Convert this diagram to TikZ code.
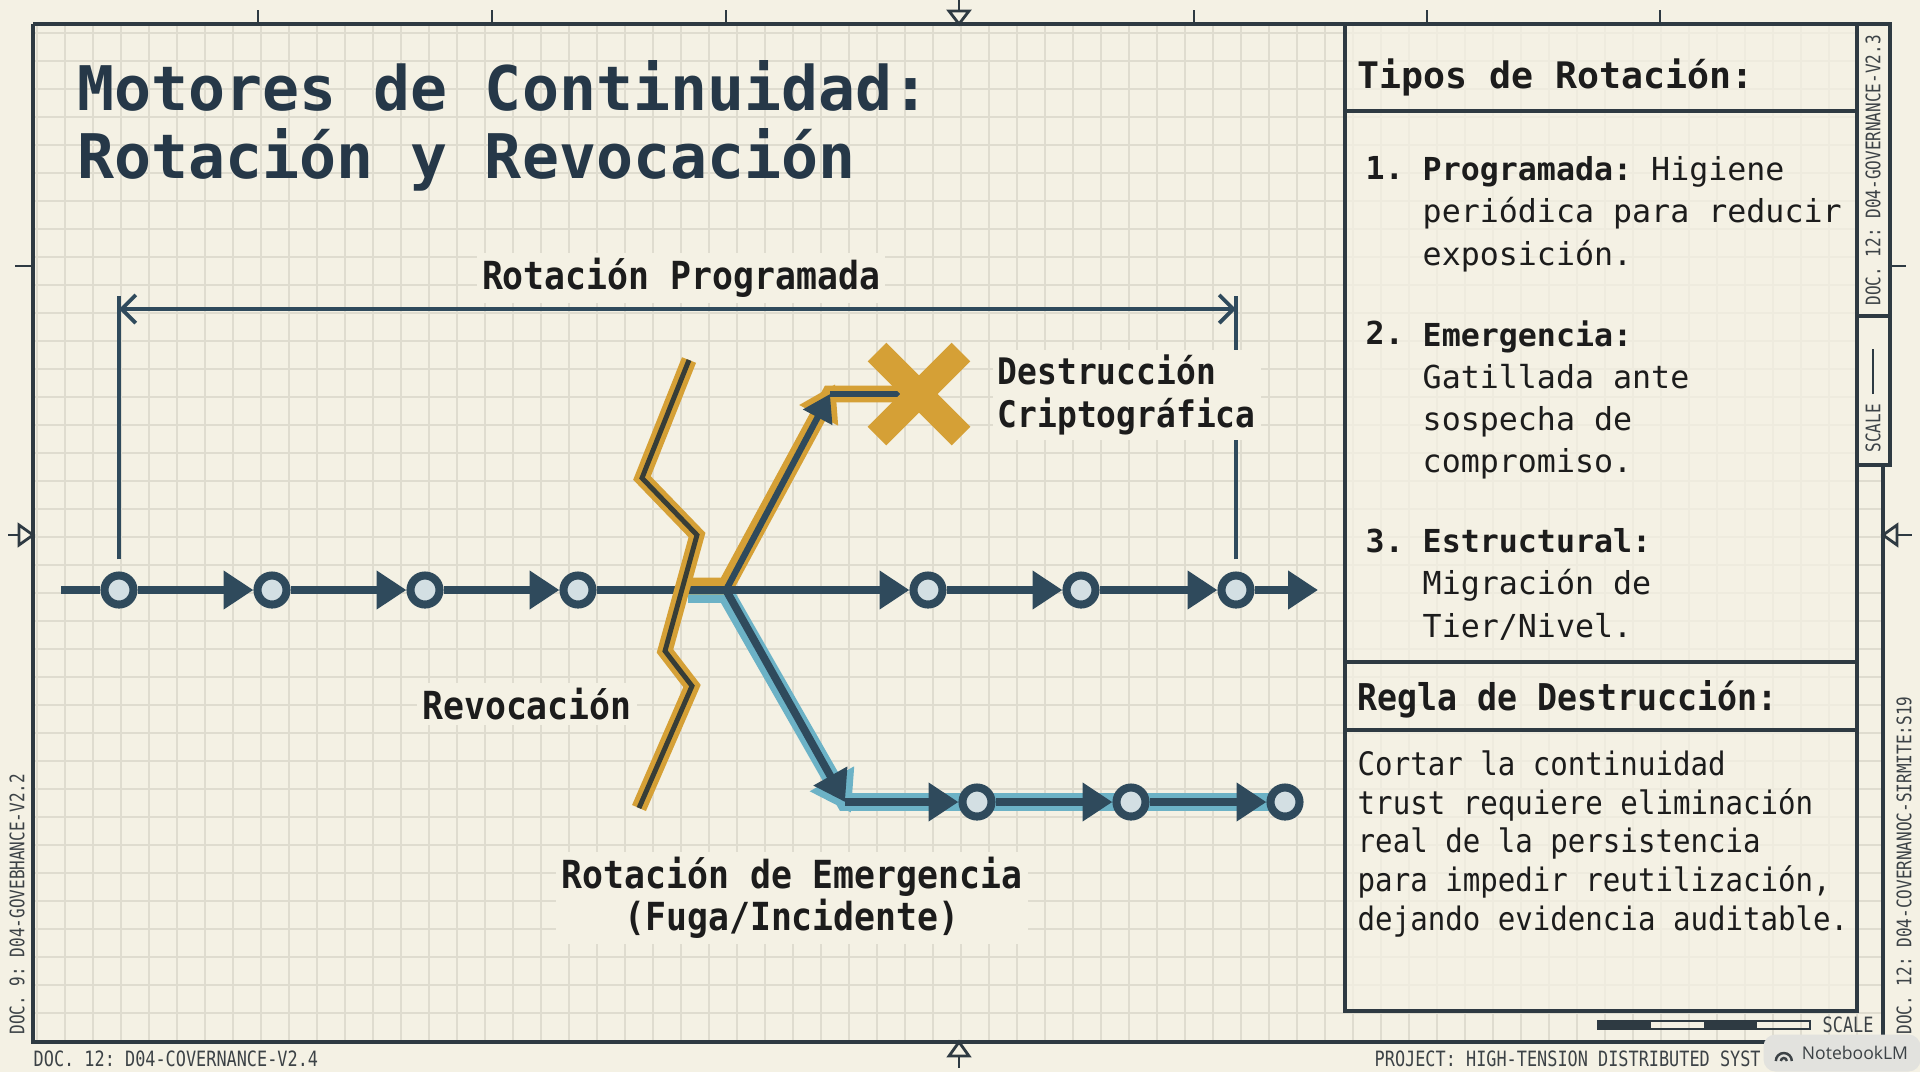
\documentclass[tikz,border=0pt]{standalone}
\usepackage{fontspec}
\setmainfont{DejaVu Sans Mono}
\newfontfamily\lblfont{DejaVu Sans Mono}[FakeStretch=0.9]
\newfontfamily\footfont{DejaVu Sans Mono}[FakeStretch=0.8]
\newfontfamily\badgefont{Open Sans}
\usetikzlibrary{arrows.meta,calc,positioning}
\frenchspacing

\definecolor{paper}{HTML}{F4F1E4}
\definecolor{gridc}{HTML}{DFDCCF}
\definecolor{ink}{HTML}{2E3A42}
\definecolor{navy}{HTML}{2F4A5C}
\definecolor{titlec}{HTML}{263848}
\definecolor{nodefill}{HTML}{D3DFE3}
\definecolor{gold}{HTML}{D5A036}
\definecolor{skyc}{HTML}{6CB2C6}
\definecolor{txt}{HTML}{1C1C1C}
\definecolor{zigcore}{HTML}{373D37}
\definecolor{footc}{HTML}{3C4246}
\definecolor{badgec}{HTML}{E2E2DE}

\pgfdeclarelayer{paperbg}
\pgfdeclarelayer{casing}
\pgfsetlayers{paperbg,casing,main}

\begin{document}
\begin{tikzpicture}[x=0.1mm,y=-0.1mm,
    gridline/.style={gridc, line width=0.45pt},
    frame/.style={ink, line width=1pt},
    panel/.style={ink, line width=0.9pt},
    tickmark/.style={ink, line width=0.8pt},
    station/.style={circle, draw=navy, line width=2.3pt, fill=nodefill,
        minimum size=2.9mm, inner sep=0},
    track/.style={navy, line width=2.4pt},
    tip/.style={-{Triangle[length=8.5pt,width=10.5pt]}},
    branch/.style={navy, line width=1.8pt},
    goldcase/.style={gold, line width=4.8pt},
    skycase/.style={skyc, line width=5pt},
    zig/.style={gold, line width=1.45pt, double=zigcore, double distance=1.4pt},
    xmark/.style={gold, line width=7.5pt},
    dimline/.style={navy, line width=1.1pt},
    extline/.style={navy, line width=1pt},
    lbl/.style={font=\lblfont\bfseries\fontsize{11}{11.8}\selectfont,
        text=txt, fill=paper, inner sep=1.5pt},
    head/.style={font=\bfseries\fontsize{10.4}{12}\selectfont, text=txt, inner sep=0},
    item/.style={font=\fontsize{9}{12}\selectfont, text=txt, align=left, inner sep=0},
    rule/.style={font=\lblfont\fontsize{9.2}{11}\selectfont, text=txt, align=left, inner sep=0},
    foot/.style={font=\footfont\fontsize{6}{7}\selectfont, text=footc, inner sep=0},
    vtext/.style={font=\footfont\fontsize{5.7}{6}\selectfont, text=footc,
        rotate=90, anchor=west, inner sep=0},
    badge/.style={fill=badgec, rounded corners=1.2mm, minimum width=15.7mm,
        minimum height=3.7mm, inner sep=0, text=footc,
        font=\badgefont\fontsize{5}{6}\selectfont}]

\useasboundingbox (0,0) rectangle (1920,1072);

% Paper and grid
\begin{pgfonlayer}{paperbg}
\fill[paper] (0,0) rectangle (1920,1072);
\foreach \gx in {37,65,...,1883} \draw[gridline] (\gx,24) -- (\gx,1042);
\foreach \gy in {33,61,...,1042} \draw[gridline] (33,\gy) -- (1883,\gy);
\end{pgfonlayer}

% Frame, ticks and markers
\draw[frame] (33,24) -- (1890,24);
\draw[frame] (33,24) -- (33,1042) -- (1883,1042) -- (1883,465);
\draw[frame, fill=paper] (1857,24) rectangle (1890,465);
\draw[frame] (1857,316) -- (1890,316);
\foreach \tx in {258,492,726,1194,1427,1660} \draw[tickmark] (\tx,10) -- (\tx,24);
\draw[tickmark] (15,266) -- (33,266);
\draw[tickmark] (1890,266) -- (1906,266);
\draw[tickmark] (959,0) -- (959,12);
\draw[tickmark, fill=paper] (949,11) -- (969,11) -- (959,24) -- cycle;
\draw[tickmark] (959,1056) -- (959,1068);
\draw[tickmark, fill=paper] (949,1056) -- (969,1056) -- (959,1042) -- cycle;
\draw[tickmark] (8,535) -- (19,535);
\draw[tickmark, fill=paper] (19,525) -- (19,545) -- (33,535) -- cycle;
\draw[tickmark] (1897,535) -- (1912,535);
\draw[tickmark, fill=paper] (1897,525) -- (1897,545) -- (1883,535) -- cycle;

% Title
\node[anchor=north west, align=left, inner sep=0, text=titlec,
    font=\bfseries\fontsize{17.5}{19.3}\selectfont] (title) at (77,60)
    {Motores de Continuidad:\\Rotación y Revocación};

% Side panel
\fill[paper, opacity=0.75] (1345,24) rectangle (1857,1011);
\draw[panel] (1345,24) rectangle (1857,1011);
\draw[panel] (1345,111) -- (1857,111);
\draw[panel] (1345,662) -- (1857,662);
\draw[panel] (1345,730) -- (1857,730);

\node[head, anchor=west] (tiposHd) at (1357,77) {Tipos de Rotación:};
\node[item, anchor=north west] (num1) at (1365,156) {\textbf{1.}};
\node[item, anchor=north west] (item1) at (1422,156)
    {\textbf{Programada:} Higiene\\periódica para reducir\\exposición.};
\node[item, anchor=north west] (num2) at (1365,320) {\textbf{2.}};
\node[item, anchor=north west] (item2) at (1422,320)
    {\textbf{Emergencia:}\\Gatillada ante\\sospecha de\\compromiso.};
\node[item, anchor=north west] (num3) at (1365,528) {\textbf{3.}};
\node[item, anchor=north west] (item3) at (1422,528)
    {\textbf{Estructural:}\\Migración de\\Tier/Nivel.};

\node[head, font=\lblfont\bfseries\fontsize{10.5}{12}\selectfont, anchor=west]
    (reglaHd) at (1357,699) {Regla de Destrucción:};
\node[rule, anchor=north west] (reglaTx) at (1357,750)
    {Cortar la continuidad\\trust requiere eliminación\\real de la persistencia\\
     para impedir reutilización,\\dejando evidencia auditable.};

% Main track stations
\node[station] (c1) at (119,590) {};
\node[station] (c2) at (272,590) {};
\node[station] (c3) at (425,590) {};
\node[station] (c4) at (578,590) {};
\node[station] (c5) at (928,590) {};
\node[station] (c6) at (1081,590) {};
\node[station] (c7) at (1236,590) {};
\coordinate (start) at (61,590);
\coordinate (end) at (1318,590);
\coordinate (split) at (688,590);
\coordinate (junc) at (726,590);

% Emergency branch stations
\coordinate (down) at (845,802);
\node[station] (e1) at (977,802) {};
\node[station] (e2) at (1131,802) {};
\node[station] (e3) at (1285,802) {};

% Destruction branch
\coordinate (up) at (830,394);
\coordinate (xm) at (919,394);

% Revocation cut
\coordinate (z1) at (689,360);
\coordinate (z2) at (642,478);
\coordinate (z3) at (697,535);
\coordinate (z4) at (665,651);
\coordinate (z5) at (692,686);
\coordinate (z6) at (639,808);

% Casings under the branches
\begin{pgfonlayer}{casing}
\draw[skycase] ($(split)+(0,4)$) -- ($(junc)+(0,4)$) -- (down) -- (e3.center);
\draw[skyc, line width=2pt, -{Triangle[length=11pt,width=14pt]}]
    (junc) -- ($(down)!-1.2mm!(junc)$);
\draw[goldcase] ($(split)+(0,-4)$) -- ($(junc)+(0,-4)$) -- (up) -- (xm);
\draw[gold, line width=2pt, -{Triangle[length=10pt,width=12pt]}]
    (junc) -- ($(up)!-1.1mm!(junc)$);
\end{pgfonlayer}

% Scheduled rotation span
\coordinate (dimL) at (119,309);
\coordinate (dimR) at (1236,309);
\coordinate (extL) at (119,296);
\coordinate (extR) at (1236,296);
\draw[extline] ($(c1.north)+(0,-12)$) -- (extL);
\draw[extline] ($(c7.north)+(0,-12)$) -- (extR);
\draw[dimline, {Straight Barb[length=4pt,width=8pt]}-{Straight Barb[length=4pt,width=8pt]}]
    (dimL) -- (dimR);

% Arrows
\draw[track] (start) -- (c1);
\draw[track, tip] (c1) edge (c2)
    (c2) edge (c3)
    (c3) edge (c4)
    (c4) edge (c5)
    (c5) edge (c6)
    (c6) edge (c7)
    (c7) edge (end);

\draw[track, line width=2.2pt, tip] (junc) -- (down);
\draw[track, line width=2.2pt, tip] (down) -- (e1);
\draw[track, line width=2.2pt, tip] (e1) edge (e2)
    (e2) edge (e3);

\draw[branch, -{Triangle[length=7.5pt,width=9pt]}] (junc) -- (up);
\draw[branch] (up) -- (xm);

\draw[zig] (z1) -- (z2) -- (z3) -- (z4) -- (z5) -- (z6);

\draw[xmark] ($(xm)+(-42,-42)$) -- ($(xm)+(42,42)$);
\draw[xmark] ($(xm)+(-42,42)$) -- ($(xm)+(42,-42)$);

% Labels
\node[lbl] (progLbl) at (681,278) {Rotación Programada};
\node[lbl, anchor=west, align=left,
    font=\lblfont\bfseries\fontsize{10.4}{12.2}\selectfont] (destLbl) at (992,395)
    {Destrucción\\Criptográfica};
\node[lbl] (revLbl) at (527,704) {Revocación};
\node[lbl, align=center] (emerLbl) at (792,898)
    {Rotación de Emergencia\\(Fuga/Incidente)};

% Scale bar
\fill[ink] (1598,1021) rectangle (1651,1029);
\fill[ink] (1704,1021) rectangle (1757,1029);
\draw[ink, line width=0.5pt] (1598,1021) rectangle (1810,1029);
\node[foot, anchor=west] (scaleLbl) at (1822,1025) {SCALE};

% Margin texts
\node[foot, anchor=west] (docLeft) at (33,1059) {DOC. 12: D04-COVERNANCE-V2.4};
\node[foot, anchor=west] (project) at (1374,1059) {PROJECT: HIGH-TENSION DISTRIBUTED SYST};
\node[vtext] (sideLeft) at (17,1035) {DOC. 9: D04-GOVEBHANCE-V2.2};
\node[vtext] (sideTop) at (1873,306) {DOC. 12: D04-GOVERNANCE-V2.3};
\node[vtext] (sideScale) at (1873,453) {SCALE};
\draw[ink, line width=0.5pt] (1873,394) -- (1873,349);
\node[vtext] (sideLow) at (1904,1035) {DOC. 12: D04-COVERNANOC-SIRMITE:S19};

% Watermark badge
\node[badge] (nlm) at (1842,1053) {\hspace{2.6mm}NotebookLM};
\draw[footc, line width=0.7pt] ($(nlm.west)+(13,8)$) arc[start angle=180, end angle=360, radius=8];
\draw[footc, line width=0.7pt] ($(nlm.west)+(18,8)$) arc[start angle=180, end angle=360, radius=3];
\end{tikzpicture}
\end{document}
